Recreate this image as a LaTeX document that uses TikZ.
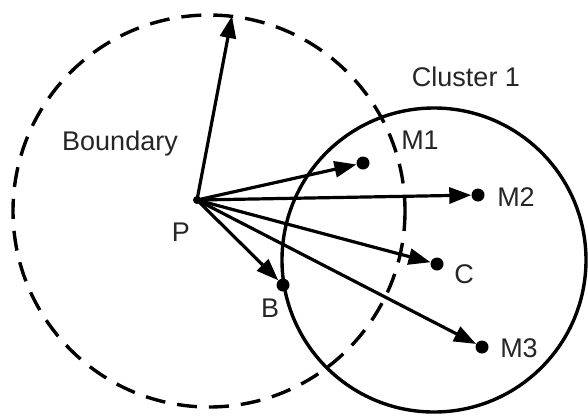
\documentclass[tikz,border=0pt]{standalone}
\usepackage{fontspec}
\setmainfont{Liberation Sans}
\usetikzlibrary{arrows.meta}
\begin{document}
\begin{tikzpicture}[x=1pt,y=-1pt,
 dot/.style={circle,fill=black,inner sep=0pt,minimum size=13pt},
 lbl/.style={font=\fontsize{27}{31}\selectfont,inner sep=0pt,text=black!85},
 vec/.style={line width=3.2pt,-{Triangle[length=22pt,width=16pt]}},
 bnd/.style={line width=3.4pt,dash pattern=on 20pt off 12pt},
 clu/.style={line width=3.4pt}]
\useasboundingbox (0,0) rectangle (588,416);
\fill[white] (0,0) rectangle (588,416);
\coordinate (bc) at (209,211);
\draw[bnd] (bc) circle[radius=196];
\coordinate (cc) at (434,260);
\draw[clu] (cc) circle[radius=152];
\node[dot,minimum size=8pt] (P) at (197,200) {};
\node[dot] (M1) at (363,163) {};
\node[dot] (M2) at (478,195) {};
\node[dot] (C) at (437,264) {};
\node[dot] (M3) at (482,347) {};
\node[dot] (B) at (283,285) {};
\coordinate (T) at (232,16);
\draw[vec] (P.center) -- (T);
\draw[vec] (P.center) -- (M1);
\draw[vec] (P.center) -- (M2);
\draw[vec] (P.center) -- (C);
\draw[vec] (P.center) -- (M3);
\draw[vec] (P.center) -- (B);
\node[lbl] (lBoundary) at (120,144) {Boundary};
\node[lbl] (lCluster) at (466,77) {Cluster 1};
\node[lbl] (lM1) at (420,140) {M1};
\node[lbl] (lM2) at (516,197) {M2};
\node[lbl] (lC) at (464,274) {C};
\node[lbl] (lM3) at (519,348) {M3};
\node[lbl] (lP) at (181,232) {P};
\node[lbl] (lB) at (270,308) {B};
\end{tikzpicture}
\end{document}
